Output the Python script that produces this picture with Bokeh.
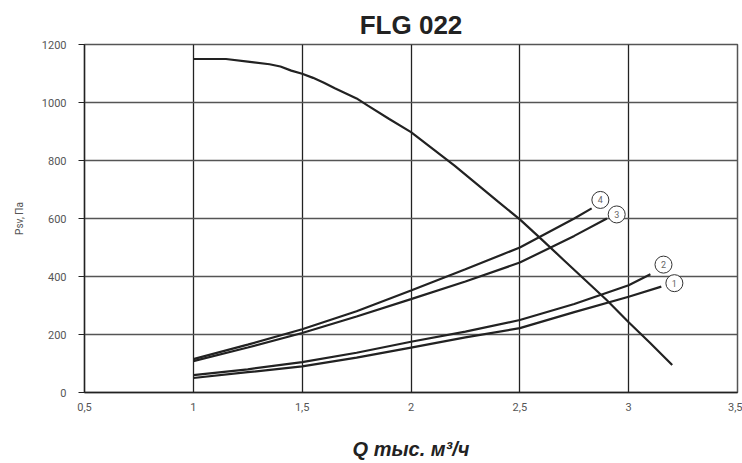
from bokeh.plotting import figure
from bokeh.models import FixedTicker, Range1d, Title
from bokeh.embed import file_html
from bokeh.resources import INLINE
from bokeh.core.properties import value

# Fan characteristic
fan_q = [1.0, 1.15, 1.25, 1.35, 1.4, 1.45, 1.5, 1.55, 1.6, 1.65, 1.75, 1.8, 1.9, 2.0, 2.1, 2.2,
         2.3, 2.4, 2.5, 2.6, 2.7, 2.8, 2.9, 3.0, 3.1, 3.2]
fan_p = [1150, 1150, 1141, 1132, 1124, 1110, 1099, 1085, 1068, 1049, 1014, 990, 943, 898, 840, 782,
         720, 658, 597, 528, 458, 388, 318, 242, 170, 95]

# System curves 1..4
c1_q = [1.0, 1.25, 1.5, 1.75, 2.0, 2.25, 2.5, 2.75, 3.0, 3.15]
c1_p = [50, 70, 90, 120, 155, 190, 222, 277, 330, 365]
c2_q = [1.0, 1.25, 1.5, 1.75, 2.0, 2.25, 2.5, 2.75, 3.0, 3.1]
c2_p = [60, 80, 105, 137, 175, 210, 250, 305, 370, 408]
c3_q = [1.0, 1.25, 1.5, 1.75, 2.0, 2.25, 2.5, 2.75, 2.9]
c3_p = [108, 155, 205, 262, 322, 383, 448, 540, 600]
c4_q = [1.0, 1.25, 1.5, 1.75, 2.0, 2.25, 2.5, 2.75, 2.83]
c4_p = [115, 165, 218, 280, 352, 425, 500, 600, 635]

label_names = ["1", "2", "3", "4"]
label_q = [3.21, 3.16, 2.945, 2.87]
label_p = [377, 441, 614, 664]

x_ticks = [0.5, 1, 1.5, 2, 2.5, 3, 3.5]
x_tick_labels = ["0,5", "1", "1,5", "2", "2,5", "3", "3,5"]
y_ticks = [0, 200, 400, 600, 800, 1000, 1200]

title_text = "FLG 022"
x_title = "Q тыс. м³/ч"
y_title = "Psv, Па"

p = figure(width=742, height=463, output_backend="svg", toolbar_location=None,
           x_range=Range1d(0.5, 3.5), y_range=Range1d(0, 1200),
           min_border_left=84, min_border_right=5, min_border_top=44, min_border_bottom=71)
p.title = Title(text=title_text, align="center", text_font="Liberation Sans",
                text_font_size="26px", text_font_style="bold", text_color="#222222",
                offset=0, standoff=9)
p.background_fill_color = "white"
p.border_fill_color = "white"
p.outline_line_color = "#555555"
p.outline_line_width = 1.5

p.xaxis.ticker = FixedTicker(ticks=x_ticks)
p.xaxis.major_label_overrides = {t: l for t, l in zip(x_ticks, x_tick_labels)}
p.yaxis.ticker = FixedTicker(ticks=y_ticks)
p.xgrid.ticker = FixedTicker(ticks=x_ticks)
p.ygrid.ticker = FixedTicker(ticks=y_ticks)
p.xgrid.grid_line_color = "#222222"
p.xgrid.grid_line_width = 1.3
p.ygrid.grid_line_color = "#555555"
p.ygrid.grid_line_width = 1.3

for ax in (p.xaxis[0], p.yaxis[0]):
    ax.axis_line_color = "#222222"
    ax.axis_line_width = 1.3
    ax.major_tick_line_color = "#222222"
    ax.minor_tick_line_color = None
    ax.major_tick_in = 0
    ax.major_label_text_font = "Roboto"
    ax.major_label_text_font_style = "normal"
    ax.major_label_text_font_size = "11px"
    ax.major_label_text_color = "#555555"

p.xaxis.major_tick_out = 0
p.xaxis.major_label_standoff = 10
p.yaxis.major_tick_out = 6
p.yaxis.major_label_standoff = 12

p.xaxis.axis_label = x_title
p.xaxis.axis_label_text_font = "Liberation Sans"
p.xaxis.axis_label_text_font_style = "bold italic"
p.xaxis.axis_label_text_font_size = "20px"
p.xaxis.axis_label_text_color = "#222222"
p.xaxis.axis_label_standoff = 24

p.yaxis.axis_label = y_title
p.yaxis.axis_label_text_font = "Roboto"
p.yaxis.axis_label_text_font_style = "normal"
p.yaxis.axis_label_text_font_size = "10px"
p.yaxis.axis_label_text_color = "#555555"
p.yaxis.axis_label_standoff = 14

lc = "#222222"
lw = 2.2
p.line(fan_q, fan_p, line_color=lc, line_width=lw)
p.line(c1_q, c1_p, line_color=lc, line_width=lw)
p.line(c2_q, c2_p, line_color=lc, line_width=lw)
p.line(c3_q, c3_p, line_color=lc, line_width=lw)
p.line(c4_q, c4_p, line_color=lc, line_width=lw)

p.scatter(label_q, label_p, size=17, fill_color="white", line_color="#333333", line_width=1)
p.text(label_q, label_p, text=label_names, text_align="center", text_baseline="middle",
       text_font=value("Roboto"), text_font_size="9px", text_color="#666666")

open("out.html", "w").write(file_html(p, INLINE))
